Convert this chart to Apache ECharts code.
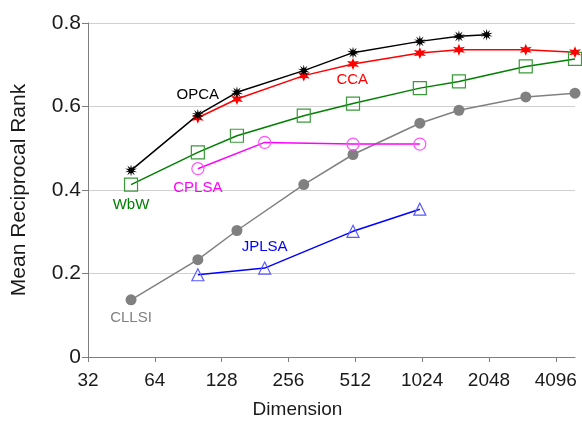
<!DOCTYPE html>
<html>
<head>
<meta charset="utf-8">
<script src="https://cdn.jsdelivr.net/npm/echarts@6/dist/echarts.min.js"></script>
<style>html,body{margin:0;padding:0;background:#fff;}#c{width:582px;height:421px;}</style>
</head>
<body>
<div id="c"></div>
<script>
// ---- data ----
const xTicks = [32, 64, 128, 256, 512, 1024, 2048, 4096];
const yTicks = [0, 0.2, 0.4, 0.6, 0.8];

const opcaDims = [50, 100, 150, 300, 500, 1000, 1500, 2000];
const opcaVals = [0.447, 0.580, 0.634, 0.686, 0.729, 0.756, 0.768, 0.772];

const ccaDims = [100, 150, 300, 500, 1000, 1500, 3000, 5000];
const ccaVals = [0.573, 0.618, 0.674, 0.702, 0.728, 0.736, 0.736, 0.730];

const wbwDims = [50, 100, 150, 300, 500, 1000, 1500, 3000, 5000];
const wbwVals = [0.413, 0.490, 0.530, 0.578, 0.607, 0.644, 0.660, 0.696, 0.714];

const cplsaDims = [100, 200, 500, 1000];
const cplsaVals = [0.451, 0.514, 0.510, 0.510];

const cllsiDims = [50, 100, 150, 300, 500, 1000, 1500, 3000, 5000];
const cllsiVals = [0.137, 0.233, 0.303, 0.413, 0.485, 0.560, 0.591, 0.623, 0.632];

const jplsaDims = [100, 200, 500, 1000];
const jplsaVals = [0.197, 0.213, 0.301, 0.354];

// label anchors (data space): [dimension, value]
const labelOPCA = [100, 0.628];
const labelCCA = [496, 0.664];
const labelWbW = [50, 0.365];
const labelCPLSA = [100, 0.405];
const labelJPLSA = [200, 0.265];
const labelCLLSI = [50, 0.093];

// ---- helpers ----
const font = "'Liberation Sans', Arial, sans-serif";
function zip(a, b) { return a.map((v, i) => [v, b[i]]); }
function starPath(n, inner) {
  let d = '';
  for (let i = 0; i < 2 * n; i++) {
    const r = (i % 2 === 0) ? 50 : 50 * inner;
    const a = Math.PI * i / n - Math.PI / 2;
    const x = (50 + r * Math.cos(a)).toFixed(2);
    const y = (50 + r * Math.sin(a)).toFixed(2);
    d += (i === 0 ? 'M' : 'L') + x + ' ' + y + ' ';
  }
  return 'path://' + d + 'Z';
}
function lbl(coord, text, color) {
  return {
    silent: true,
    symbol: 'rect', symbolSize: 1,
    itemStyle: { color: 'rgba(0,0,0,0)' },
    label: { show: true, position: 'inside', formatter: text, color: color,
      fontSize: 15, fontFamily: font },
    data: [{ coord: coord }]
  };
}
function ser(name, dims, vals, color, symbol, size, fill, stroke, labelCoord, labelColor) {
  return {
    name: name, type: 'line', data: zip(dims, vals),
    symbol: symbol, symbolSize: size, showSymbol: true,
    lineStyle: { color: color, width: 1.5 },
    itemStyle: { color: fill, borderColor: stroke, borderWidth: stroke ? 1.2 : 0 },
    emphasis: { disabled: true },
    markPoint: lbl(labelCoord, name, labelColor),
    z: 3
  };
}

const chart = echarts.init(document.getElementById('c'), null, { renderer: 'canvas' });

chart.setOption({
  animation: false,
  backgroundColor: '#fff',
  textStyle: { fontFamily: font },
  grid: { left: 88, right: 7, top: 23, bottom: 64, containLabel: false, outerBoundsMode: 'none' },
  xAxis: {
    type: 'log', logBase: 2, min: 32, max: 5000,
    name: 'Dimension', nameLocation: 'middle', nameGap: 43,
    nameTextStyle: { fontSize: 19, color: '#1a1a1a', fontFamily: font, padding: [0, 68, 0, 0] },
    axisLine: { show: true, lineStyle: { color: '#7f7f7f', width: 1 } },
    axisTick: { show: true, length: 5, inside: false, customValues: xTicks, lineStyle: { color: '#7f7f7f' } },
    axisLabel: { customValues: xTicks, fontSize: 19, color: '#1a1a1a', fontFamily: font, margin: 14,
      formatter: v => String(Math.round(v)) },
    splitLine: { show: false },
    minorTick: { show: false }
  },
  yAxis: {
    type: 'value', min: 0, max: 0.8, interval: 0.2,
    name: 'Mean Reciprocal Rank', nameLocation: 'middle', nameGap: 58,
    nameTextStyle: { fontSize: 21, color: '#1a1a1a', fontFamily: font },
    axisLine: { show: true, lineStyle: { color: '#7f7f7f', width: 1 } },
    axisTick: { show: true, length: 6, inside: false, lineStyle: { color: '#7f7f7f' } },
    axisLabel: { fontSize: 21, color: '#1a1a1a', fontFamily: font, margin: 7,
      formatter: v => { const t = yTicks.find(x => Math.abs(x - v) < 1e-9); return t === 0 ? '0' : String(t); } },
    splitLine: { show: true, lineStyle: { color: '#d0d0d0', width: 1 } }
  },
  series: [
    ser('CLLSI', cllsiDims, cllsiVals, '#808080', 'circle', 11, '#808080', null, labelCLLSI, '#808080'),
    ser('JPLSA', jplsaDims, jplsaVals, '#0000ff', 'triangle', 12, 'rgba(0,0,0,0)', '#5a5aff', labelJPLSA, '#0000ff'),
    ser('CPLSA', cplsaDims, cplsaVals, '#ff00ff', 'circle', 12, 'rgba(0,0,0,0)', '#ff55ff', labelCPLSA, '#ff00ff'),
    ser('WbW', wbwDims, wbwVals, '#008000', 'rect', 13, 'rgba(0,0,0,0)', '#3a9a3a', labelWbW, '#008000'),
    ser('CCA', ccaDims, ccaVals, '#ff0000', starPath(6, 0.45), 12, '#ff0000', null, labelCCA, '#ff0000'),
    ser('OPCA', opcaDims, opcaVals, '#000000', starPath(10, 0.4), 12, '#000000', null, labelOPCA, '#000000')
  ]
});
</script>
</body>
</html>
